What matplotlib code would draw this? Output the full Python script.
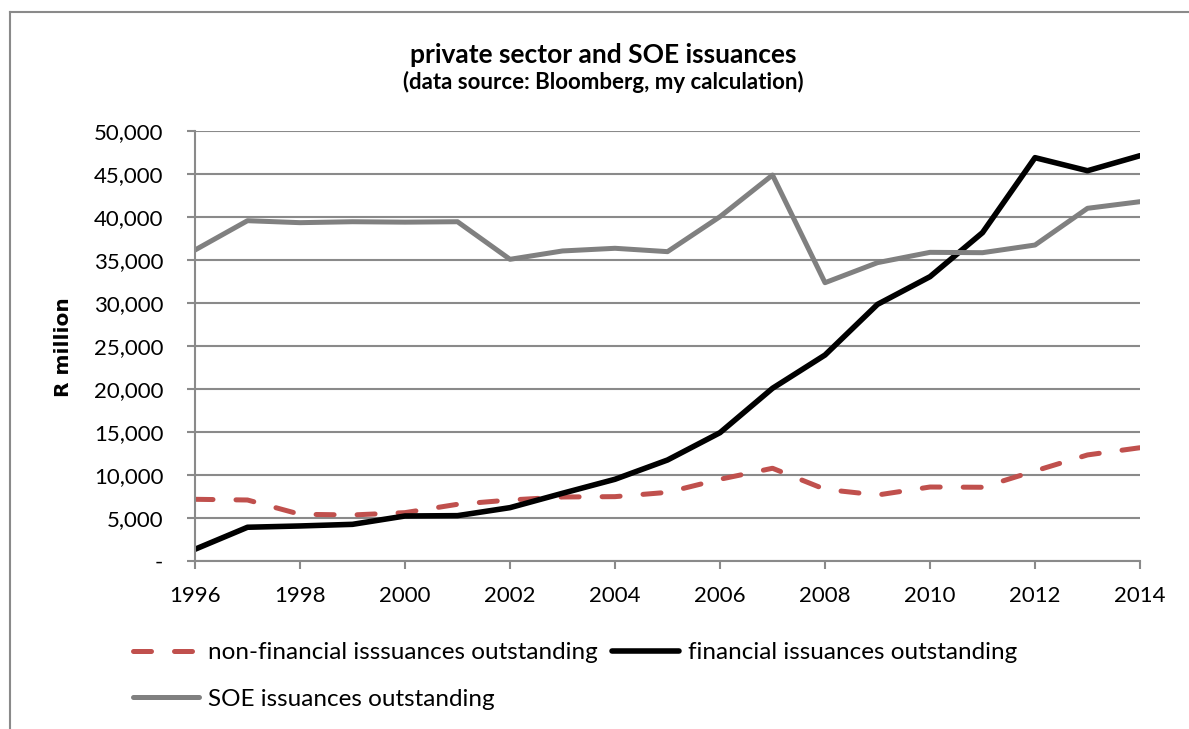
import matplotlib
matplotlib.use("Agg")
import matplotlib.pyplot as plt
from matplotlib.lines import Line2D
from matplotlib.ticker import FuncFormatter

plt.rcParams['font.family'] = ['Lato', 'DejaVu Sans']

# Outstanding issuances, R million
years = list(range(1996, 2015))
non_financial = [7170, 7090, 5430, 5350, 5620, 6590, 7090, 7440, 7480, 7980,
                 9500, 10780, 8330, 7670, 8600, 8570, 10470, 12330, 13170]
financial = [1360, 3920, 4070, 4260, 5230, 5270, 6200, 7870, 9500, 11740,
             14920, 20080, 23950, 29840, 33060, 38180, 46900, 45380, 47130]
soe = [36160, 39570, 39340, 39450, 39400, 39450, 35080, 36050, 36360, 35970,
       40040, 44880, 32360, 34690, 35890, 35850, 36740, 41010, 41780]

label_nonfin = "non-financial isssuances outstanding"
label_fin = "financial issuances outstanding"
label_soe = "SOE issuances outstanding"

red = "#C0504D"
grey = "#808080"
axis_grey = "#8A8A8A"
dash = (0, (3.6, 4.6))

fig = plt.figure(figsize=(11.89, 7.29), dpi=100)
ax = fig.add_axes([0.164, 0.2305, 0.7948, 0.5898])

ax.plot(years, non_financial, color=red, lw=3.6, linestyle=dash,
        dash_capstyle='round', solid_joinstyle='round')
ax.plot(years, financial, color='black', lw=4.0, solid_capstyle='round',
        solid_joinstyle='round')
ax.plot(years, soe, color=grey, lw=3.6, solid_capstyle='round',
        solid_joinstyle='round')

ax.set_xlim(1996, 2014)
ax.set_ylim(0, 50000)
ax.set_xticks(range(1996, 2015, 2))
ax.set_yticks(range(0, 50001, 5000))
ax.yaxis.set_major_formatter(FuncFormatter(lambda v, p: "-" if v == 0 else f"{int(v):,}"))

ax.grid(axis='y', color=axis_grey, lw=1.5)
ax.set_axisbelow(True)
for side in ['top', 'right']:
    ax.spines[side].set_visible(False)
for side in ['left', 'bottom']:
    ax.spines[side].set_color(axis_grey)
    ax.spines[side].set_linewidth(1.5)
ax.tick_params(axis='both', colors=axis_grey, width=1.5, length=5.8,
               labelcolor='black', labelsize=16)
ax.tick_params(axis='x', pad=12)
ax.tick_params(axis='y', pad=17)

fig.text(0.507, 1 - 63 / 729, "private sector and SOE issuances", ha='center',
         va='baseline', fontsize=19, fontweight='bold')
fig.text(0.507, 1 - 89 / 729, "(data source: Bloomberg, my calculation)", ha='center',
         va='baseline', fontsize=16, fontweight='bold')
fig.text(0.053, 0.524, "R million", rotation=90, ha='center', va='center',
         fontsize=14.5, fontweight='bold', family='DejaVu Sans')

# legend: row one holds the two private-sector series, row two the SOE series
handles = [
    Line2D([], [], color=red, lw=3.6, linestyle=dash, dash_capstyle='round'),
    Line2D([], [], color=grey, lw=3.6, solid_capstyle='round'),
    Line2D([], [], color='black', lw=4.0, solid_capstyle='round'),
]
labels = [label_nonfin, label_soe, label_fin]
fig.legend(handles, labels, ncol=2, loc='center left',
           bbox_to_anchor=(132.5 / 1189, 1 - 676 / 729),
           frameon=False, fontsize=17.5, borderpad=0, borderaxespad=0,
           handlelength=2.75, handletextpad=0.35, columnspacing=0.6,
           labelspacing=1.05)

# chart border (top and left edges visible)
fig.add_artist(Line2D([10 / 1189, 1.0], [1 - 12 / 729, 1 - 12 / 729],
                      transform=fig.transFigure, color=axis_grey, lw=1.5))
fig.add_artist(Line2D([10 / 1189, 10 / 1189], [0.0, 1 - 12 / 729],
                      transform=fig.transFigure, color=axis_grey, lw=1.5))

fig.savefig("out.png", dpi=100)
